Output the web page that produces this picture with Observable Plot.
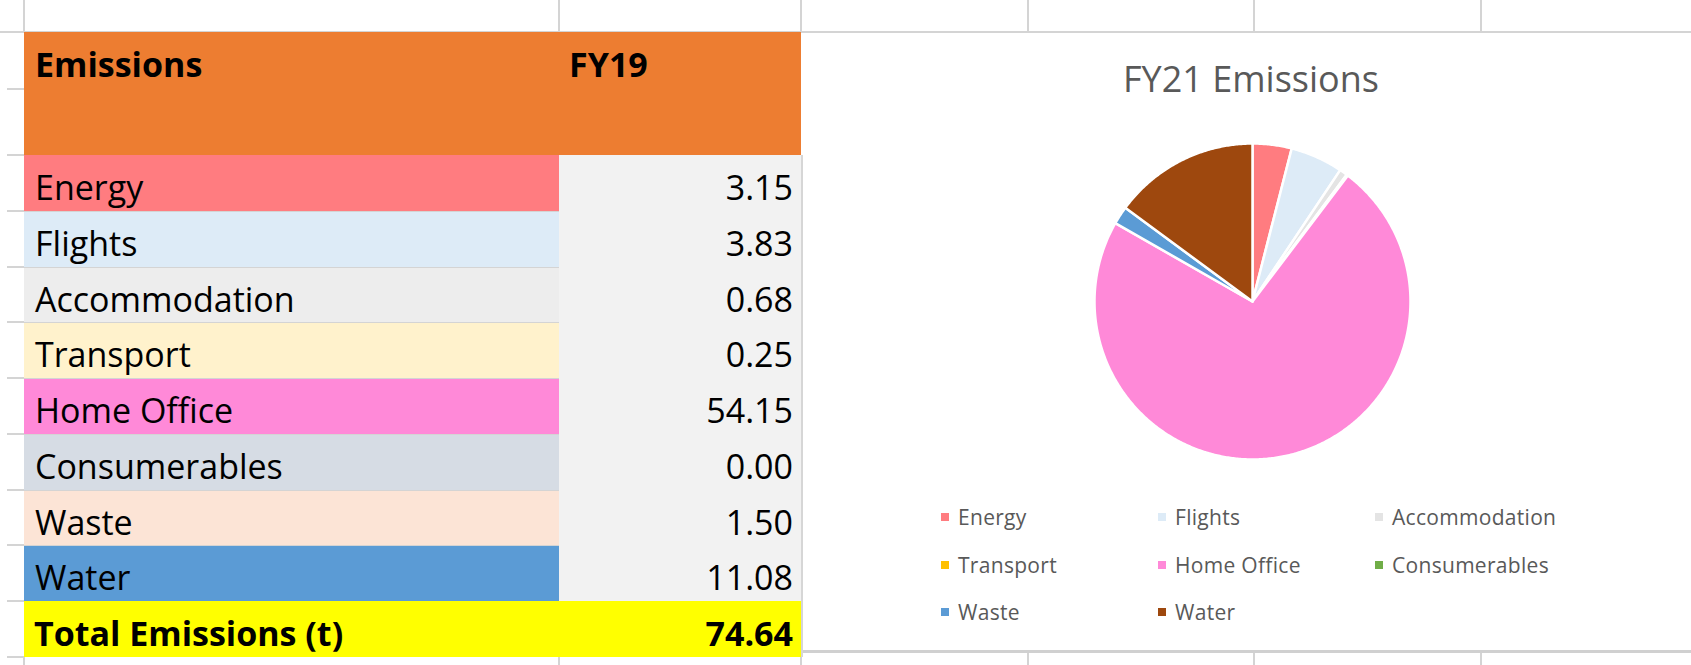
<!DOCTYPE html>
<html>
<head>
<meta charset="utf-8">
<script src="https://cdn.jsdelivr.net/npm/d3@7"></script>
<script src="https://cdn.jsdelivr.net/npm/@observablehq/plot@0.6"></script>
<style>
html, body { margin: 0; padding: 0; background: #fff; }
body { width: 1691px; height: 665px; position: relative; overflow: hidden; font-family: "Open Sans", sans-serif; }
.gl { position: absolute; background: #d4d4d4; }
.cell { position: absolute; box-sizing: border-box; }
.txt { position: absolute; white-space: nowrap; font-size: 34px; line-height: 34px; color: #000; }
#title { position: absolute; left: 1051px; width: 400px; top: 61px; text-align: center; font-size: 36px; line-height: 36px; color: #595959; white-space: nowrap; }
#pie { position: absolute; left: 1090px; top: 139px; }
#legend { position: absolute; left: 941px; top: 493px; width: 660px; }
#legend .lg-swatches { margin: 0; font-family: "Open Sans", sans-serif; font-size: 21px; color: #595959; letter-spacing: 0.3px; }
#legend .lg-swatch { width: 217px; height: 47.7px; margin-right: 0; display: inline-flex; align-items: center; }
#legend .lg-swatch > svg { margin-right: 9px; }
</style>
</head>
<body>
<div id="title">FY21 Emissions</div>
<div id="pie"></div>
<div id="legend"></div>
<script>
// ---- data ----
const categories = ["Energy", "Flights", "Accommodation", "Transport", "Home Office", "Consumerables", "Waste", "Water"];
const fy19Values = [3.15, 3.83, 0.68, 0.25, 54.15, 0.00, 1.50, 11.08];
const headerLabels = ["Emissions", "FY19"];
const totalLabel = "Total Emissions (t)";
const fy19Total = 74.64;
const chartTitle = "FY21 Emissions";
// FY21 values (share of the circle)
const fy21Values = [2.6, 3.5, 0.52, 0.1, 47.5, 0, 1.2, 9.7];
const rowColors = ["#FF7C80", "#DDEBF7", "#EDEDED", "#FFF2CC", "#FF89D8", "#D6DCE4", "#FCE4D6", "#5B9BD5"];
const sliceColors = ["#FF7C80", "#DDEBF7", "#E4E4E4", "#FFC000", "#FF89D8", "#70AD47", "#5B9BD5", "#9E480E"];

// ---- spreadsheet background gridlines ----
function line(x, y, w, h, color) {
  const d = document.createElement("div");
  d.className = "gl";
  Object.assign(d.style, {left: x + "px", top: y + "px", width: w + "px", height: h + "px"});
  if (color) d.style.background = color;
  document.body.appendChild(d);
}
const colX = [24, 559, 801, 1028, 1254, 1481];
line(0, 31, 1691, 2);
colX.forEach(x => line(x - 1, 0, 2, 32));
const rowTop = 155, rowH = 55.75;
const stubYs = [32, 89, 155];
for (let i = 1; i <= 9; i++) stubYs.push(rowTop + i * rowH);
stubYs.forEach(y => line(7, y - 1, 17, 2));
// below table
[24, 559, 801].forEach(x => line(x - 1, 657, 2, 8));
// chart bottom border + gridlines below chart
line(801, 650, 890, 3, "#d0d0d0");
[1028, 1254, 1481].forEach(x => line(x - 1, 653, 2, 12));
// right border of value column
line(801, 155, 2, 502, "#d6d6d6");

// ---- table ----
function cell(x, y, w, h, bg, borderTop) {
  const d = document.createElement("div");
  d.className = "cell";
  Object.assign(d.style, {left: x + "px", top: y + "px", width: w + "px", height: h + "px", background: bg});
  if (borderTop) d.style.borderTop = "1px solid #d4d4d4";
  document.body.appendChild(d);
}
function text(str, x, baseline, opts = {}) {
  const d = document.createElement("div");
  d.className = "txt";
  d.textContent = str;
  d.style.top = (baseline - 30) + "px";
  if (opts.right != null) { d.style.left = (opts.right - 300) + "px"; d.style.width = "300px"; d.style.textAlign = "right"; }
  else d.style.left = x + "px";
  if (opts.bold) d.style.fontWeight = "700";
  document.body.appendChild(d);
}
cell(24, 32, 777, 123, "#ED7D31");
text(headerLabels[0], 35, 77, {bold: true});
text(headerLabels[1], 569, 77, {bold: true});
categories.forEach((c, i) => {
  const y = rowTop + i * rowH;
  cell(24, y, 535, rowH, rowColors[i], i > 0);
  cell(559, y, 242, rowH, "#F2F2F2");
  text(c, 35, y + 45);
  text(d3.format(".2f")(fy19Values[i]), 0, y + 45, {right: 793});
});
const ty = rowTop + categories.length * rowH;
cell(24, ty, 777, rowH, "#FFFF00");
text(totalLabel, 34, ty + 45, {bold: true});
text(d3.format(".2f")(fy19Total), 0, ty + 45, {right: 793, bold: true});

document.getElementById("title").textContent = chartTitle;

// ---- pie ----
const pieData = categories.map((name, i) => ({name, value: fy21Values[i]}));
const arcs = d3.pie().sort(null).value(d => d.value)(pieData);
const pts = [];
arcs.forEach(a => {
  if (a.endAngle - a.startAngle <= 0) return;
  const name = a.data.name;
  pts.push({name, x: 0, y: 0});
  const n = Math.max(2, Math.ceil((a.endAngle - a.startAngle) / (Math.PI / 360)));
  for (let k = 0; k <= n; k++) {
    const t = a.startAngle + (a.endAngle - a.startAngle) * k / n;
    pts.push({name, x: Math.sin(t), y: Math.cos(t)});
  }
});
const r = 158, pad = 4;
const pie = Plot.plot({
  width: 2 * (r + pad),
  height: 2 * (r + pad),
  margin: pad,
  x: {domain: [-1, 1], axis: null},
  y: {domain: [-1, 1], axis: null},
  color: {domain: categories, range: sliceColors},
  marks: [
    Plot.line(pts, {x: "x", y: "y", z: "name", fill: "name", stroke: "white", strokeWidth: 2.5, strokeLinejoin: "round", curve: "linear-closed"})
  ]
});
document.getElementById("pie").appendChild(pie);

// ---- legend ----
const leg = Plot.legend({
  color: {type: "ordinal", domain: categories, range: sliceColors},
  swatchSize: 8,
  className: "lg"
});
document.getElementById("legend").appendChild(leg);
</script>
</body>
</html>
